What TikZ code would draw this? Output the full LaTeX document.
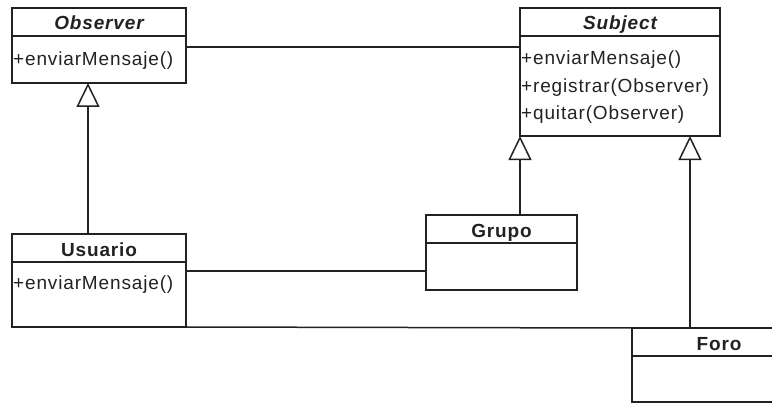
\documentclass[tikz,border=0pt]{standalone}
\usepackage{fontspec}
\setmainfont{Liberation Sans}[LetterSpace=4.5]
\usetikzlibrary{positioning}
\usetikzlibrary{arrows.meta}
\definecolor{ink}{HTML}{222222}
\tikzset{%
  head/.style = {rectangle,draw,line width=1.5pt,minimum height=28pt,
        inner sep=0pt,outer sep=0pt,anchor=north west,
        text height=16pt,text depth=0pt,
        font=\fontsize{19}{22}\selectfont\bfseries},
  body/.style = {rectangle,draw,line width=1.5pt,inner sep=0pt,
        outer sep=0pt,anchor=north},
  meth/.style = {inner sep=1pt,anchor=north west,align=left,
        font=\fontsize{19}{27.5}\selectfont},
  assoc/.style = {line width=1.5pt},
  inherit/.style = {line width=1.5pt,
        -{Triangle[open,width=23pt,length=24pt]}}
}

\begin{document}
\begin{tikzpicture}[x=1pt,y=-1pt,ink,text=ink]
    \clip (0,0) rectangle (772,404);
    % interfaces
    \node[head,minimum width=174pt] (obs) at (12,8) {\itshape Observer};
    \node[body,minimum width=174pt,minimum height=47pt] (obsb) at (obs.south) {};
    \node[meth] at ([yshift=-15pt]obsb.north west) {+enviarMensaje()};
    \node[head,minimum width=200pt] (sub) at (520,8) {\itshape Subject};
    \node[body,minimum width=200pt,minimum height=100pt] (subb) at (sub.south) {};
    \node[meth] at ([yshift=-14pt]subb.north west)
        {+enviarMensaje()\\+registrar(Observer)\\+quitar(Observer)};
    % classes
    \node[head,minimum width=174pt] (usu) at (12,234) {Usuario};
    \node[body,minimum width=174pt,minimum height=65pt] (usub) at (usu.south) {};
    \node[meth] at ([yshift=-13pt]usub.north west) {+enviarMensaje()};
    \node[head,minimum width=151pt] (gru) at (426,215) {Grupo};
    \node[body,minimum width=151pt,minimum height=47pt] (grub) at (gru.south) {};
    \node[head,minimum width=174pt] (foro) at (632,328) {Foro};
    \node[body,minimum width=174pt,minimum height=46pt] (forob) at (foro.south) {};
    % associations
    \draw[assoc] ([yshift=-11pt]obsb.north east) -- ([yshift=-11pt]subb.north west);
    \draw[assoc] ([yshift=-9pt]usub.north east) -- ([yshift=-9pt]usub.north east -| grub.west);
    \draw[assoc] (usub.south east) -- (foro.north west);
    % realizations
    \draw[inherit] ([xshift=-11pt]usu.north) -- ([xshift=-11pt]obsb.south);
    \draw[inherit] (gru.north -| subb.south west) -- (subb.south west);
    \draw[inherit] ([xshift=58pt]foro.north west) -- ([xshift=58pt]foro.north west |- subb.south);
\end{tikzpicture}
\end{document}
